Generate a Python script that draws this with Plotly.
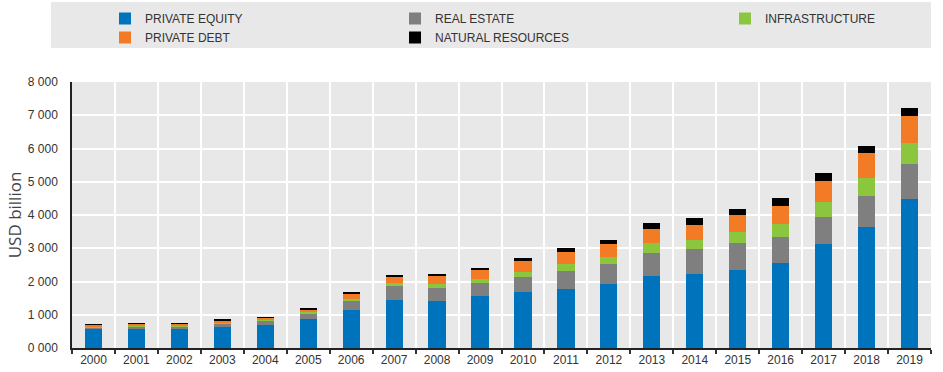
import plotly.graph_objects as go

years = [str(y) for y in range(2000, 2020)]
private_equity = [560, 570, 580, 640, 690, 870, 1150, 1450, 1400, 1570, 1690, 1780, 1930, 2160, 2220, 2360, 2550, 3120, 3640, 4480]
real_estate = [70, 80, 80, 100, 130, 180, 270, 400, 400, 380, 440, 550, 590, 710, 750, 800, 780, 810, 930, 1040]
infrastructure = [5, 5, 5, 10, 20, 40, 60, 100, 120, 130, 170, 210, 230, 280, 290, 320, 390, 450, 540, 650]
private_debt = [70, 75, 75, 90, 80, 80, 140, 200, 240, 280, 330, 360, 380, 430, 450, 510, 560, 640, 740, 820]
natural_resources = [5, 10, 10, 10, 10, 30, 60, 50, 70, 60, 90, 100, 130, 180, 190, 200, 220, 230, 230, 240]

ytick_vals = [0, 1000, 2000, 3000, 4000, 5000, 6000, 7000, 8000]
ytick_text = ["0 000", "1 000", "2 000", "3 000", "4 000", "5 000", "6 000", "7 000", "8 000"]

series = [
    ("PRIVATE EQUITY", private_equity, "#0073BD", "legend"),
    ("REAL ESTATE", real_estate, "#7F7F7F", "legend2"),
    ("INFRASTRUCTURE", infrastructure, "#8CC63F", "legend3"),
    ("PRIVATE DEBT", private_debt, "#F47B26", "legend"),
    ("NATURAL RESOURCES", natural_resources, "#000000", "legend2"),
]

fig = go.Figure()
for name, vals, color, leg in series:
    fig.add_trace(go.Bar(
        x=years, y=vals, name=name, legend=leg,
        marker=dict(color=color, line=dict(width=0)),
    ))

W, H = 943, 372
ml, mr, mt, mb = 72, 12, 82, 24
pw = W - ml - mr
ph = H - mt - mb

def px_x(x):
    return (x - ml) / pw

def px_y(y):
    return (H - mb - y) / ph

legend_font = dict(family="Liberation Sans, Arial, sans-serif", size=12, color="#333333")
common_leg = dict(orientation="v", bgcolor="rgba(0,0,0,0)", font=legend_font,
                  xanchor="left", yanchor="top", tracegroupgap=0, itemwidth=30,
                  traceorder="normal")

fig.update_layout(
    width=W, height=H,
    margin=dict(l=ml, r=mr, t=mt, b=mb, autoexpand=False),
    paper_bgcolor="white",
    plot_bgcolor="#E8E8E8",
    barmode="stack",
    bargap=0.6,
    font=dict(family="Liberation Sans, Arial, sans-serif", size=12, color="#333333"),
    legend=dict(common_leg, x=px_x(105), y=px_y(4)),
    legend2=dict(common_leg, x=px_x(395), y=px_y(4)),
    legend3=dict(common_leg, x=px_x(725), y=px_y(4)),
    xaxis=dict(
        type="category",
        tickson="boundaries",
        ticks="outside", ticklen=4, tickcolor="#333333", tickwidth=1.5,
        showgrid=True, gridcolor="white", gridwidth=2,
        showline=True, linecolor="#222222", linewidth=1.5,
        tickfont=dict(size=12, color="#333333"),
        range=[-0.5, 19.5],
    ),
    yaxis=dict(
        range=[0, 8000],
        tickvals=ytick_vals, ticktext=ytick_text,
        showgrid=True, gridcolor="white", gridwidth=2,
        showline=True, linecolor="#222222", linewidth=1.5,
        ticks="", ticklabelstandoff=10,
        zeroline=False,
        tickfont=dict(size=12, color="#333333"),
        title=dict(text="USD billion", font=dict(family="Open Sans, sans-serif", size=17, color="#444444"), standoff=2),
    ),
    shapes=[dict(
        type="rect", xref="paper", yref="paper",
        x0=px_x(51), x1=px_x(931), y0=px_y(48), y1=px_y(2),
        fillcolor="#E8E8E8", line=dict(width=0), layer="below",
    )],
)

fig.write_html("out.html", config={"displayModeBar": False},
               post_script="document.body.style.margin='0';document.body.style.padding='0';")
